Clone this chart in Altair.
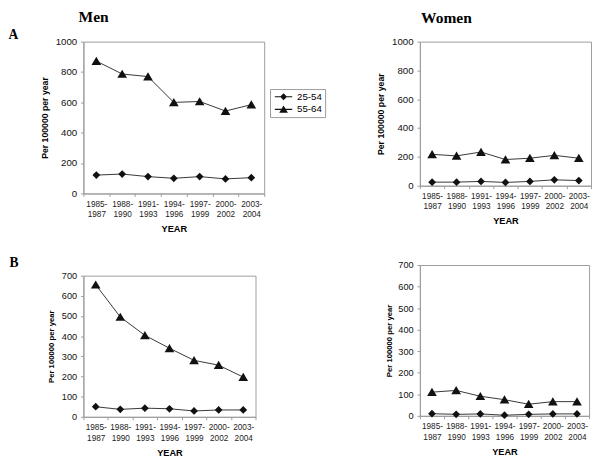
import altair as alt
import pandas as pd

periods = ["1985-1987", "1988-1990", "1991-1993", "1994-1996",
           "1997-1999", "2000-2002", "2003-2004"]
series_names = ["25-54", "55-64"]

men_a_young = [121, 128, 111, 100, 111, 96, 104]
men_a_old = [872, 787, 770, 600, 606, 543, 585]
women_a_young = [25, 25, 30, 23, 30, 41, 36]
women_a_old = [218, 207, 234, 182, 191, 211, 191]
men_b_young = [50, 37, 43, 40, 29, 34, 34]
men_b_old = [655, 495, 404, 340, 280, 256, 197]
women_b_young = [10, 7, 9, 3, 7, 9, 9]
women_b_old = [110, 118, 91, 75, 54, 66, 66]

SANS = "Liberation Sans"
SERIF = "Liberation Serif"
GRAY = "#9a9a9a"

# marker outlines in unit coordinates
DIAMOND = "M-0.8,0L0,-0.8L0.8,0L0,0.8Z"
TRIANGLE = "M0,-0.9L1,0.8L-1,0.8Z"
# legend keys: thin bar (the line) through the marker, all filled
LEG_DIAMOND = "M-2,-0.12L2,-0.12L2,0.12L-2,0.12ZM-0.8,0L0,-0.8L0.8,0L0,0.8Z"
LEG_TRIANGLE = "M-2,-0.12L2,-0.12L2,0.12L-2,0.12ZM0,-0.9L1,0.8L-1,0.8Z"


def make_frame(young, old):
    rows = []
    for p, a, b in zip(periods, young, old):
        rows.append({"period": p, "group": series_names[0], "rate": a})
        rows.append({"period": p, "group": series_names[1], "rate": b})
    return pd.DataFrame(rows)


def panel(young, old, ymax, step, w, h, ytitle_size, label_size, title_pad,
          with_legend=False, left_title=None):
    df = make_frame(young, old)
    x = alt.X(
        "period:N", sort=periods,
        scale=alt.Scale(type="band", paddingInner=0, paddingOuter=0),
        axis=alt.Axis(
            title="YEAR", labelAngle=0,
            labelExpr="[slice(datum.label,0,5), slice(datum.label,5)]",
            tickBand="extent", tickSize=3, tickColor=GRAY, domainColor=GRAY,
            labelFont=SANS, labelFontSize=8.5, labelLineHeight=11,
            labelPadding=3, labelColor="#222",
            titleFont=SANS, titleFontSize=9.5, titleFontWeight="bold",
            titlePadding=6, titleColor="black",
        ),
    )
    y = alt.Y(
        "rate:Q",
        scale=alt.Scale(domain=[0, ymax], nice=False, zero=True),
        axis=alt.Axis(
            values=list(range(0, ymax + 1, step)), grid=False, format="d",
            title="Per 100000 per year", tickSize=3, tickColor=GRAY,
            domainColor=GRAY, labelFont=SANS, labelFontSize=label_size,
            labelPadding=4, labelColor="#111",
            titleFont=SANS, titleFontSize=ytitle_size, titleFontWeight="bold",
            titlePadding=title_pad, titleColor="black",
        ),
    )
    base = alt.Chart(df).encode(x=x, y=y)
    line = base.mark_line(color="#333333", strokeWidth=1).encode(detail="group:N")
    pts = base.mark_point(filled=True, color="#111111", opacity=1, size=100).encode(
        shape=alt.Shape(
            "group:N",
            scale=alt.Scale(domain=series_names, range=[DIAMOND, TRIANGLE]),
            legend=None,
        )
    )
    layers = [line, pts]
    if with_legend:
        key = base.mark_point(
            filled=True, color="#111111", opacity=0, size=100,
        ).encode(
            shape=alt.Shape(
                "group:N",
                scale=alt.Scale(domain=series_names,
                                range=[LEG_DIAMOND, LEG_TRIANGLE]),
                legend=alt.Legend(
                    title=None, orient="none", legendX=193, legendY=49,
                    strokeColor=GRAY, fillColor="white", padding=3,
                    labelFont=SANS, labelFontSize=10, labelColor="black",
                    symbolSize=81, symbolFillColor="#111111",
                    symbolStrokeWidth=0,
                    symbolOpacity=1, symbolOffset=6, labelOffset=9,
                    rowPadding=3,
                ),
            )
        )
        layers.append(key)
    props = dict(width=w, height=h)
    if left_title is not None:
        props["title"] = left_title
    ch = alt.layer(*layers).properties(**props)
    if with_legend:
        ch = ch.resolve_scale(shape="independent")
    return ch


def letter(t, offset, dy):
    return alt.TitleParams(
        text=t, orient="left", angle=0, anchor="end", font=SERIF,
        fontSize=14, fontWeight="bold", color="black", offset=offset, dy=dy,
    )


men_a = panel(men_a_young, men_a_old, 1000, 200, 187, 157, 9, 10, 6,
              with_legend=True, left_title=letter("A", 13, -9))
men_b = panel(men_b_young, men_b_old, 700, 100, 178, 146, 8, 9.5, 6,
              left_title=letter("B", 21, -15))
women_a = panel(women_a_young, women_a_old, 1000, 200, 177, 149, 9, 10, 6)
women_b = panel(women_b_young, women_b_old, 700, 100, 175, 156, 8, 9.5, 5)

men_col = alt.vconcat(
    men_a, men_b, spacing=22,
    title=alt.TitleParams("Men", anchor="start", font=SERIF, fontSize=16,
                          fontWeight="bold", dx=73, offset=3, color="black"),
).resolve_scale(shape="independent")

women_col = alt.vconcat(
    women_a, women_b, spacing=34,
    title=alt.TitleParams("Women", anchor="start", font=SERIF, fontSize=16,
                          fontWeight="bold", dx=46, offset=11, color="black"),
).resolve_scale(shape="independent")

chart = alt.hconcat(men_col, women_col, spacing=52).resolve_scale(
    shape="independent"
).properties(
    padding={"left": 0, "top": -7, "right": 0, "bottom": 0}
).configure_view(stroke=GRAY, strokeWidth=1)

chart.save("out.html", embed_options={"renderer": "svg", "actions": False})
